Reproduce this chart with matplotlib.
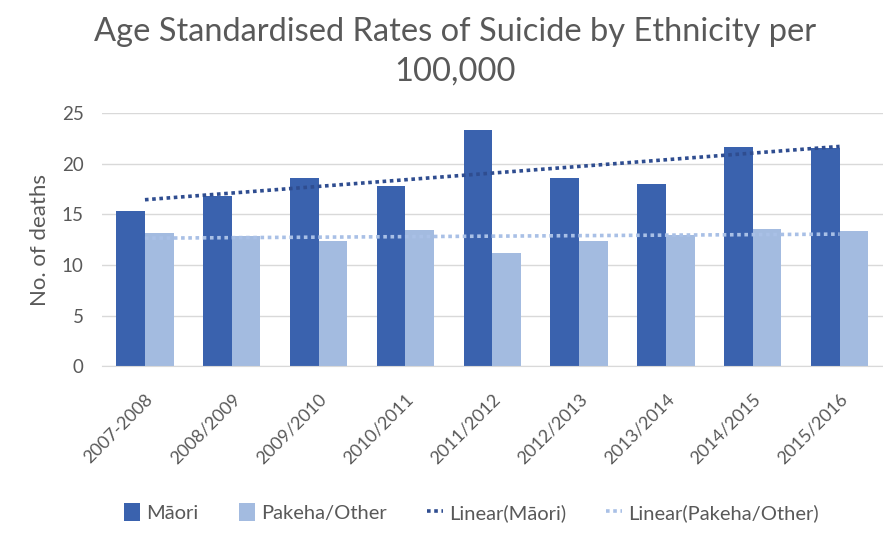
import numpy as np
import matplotlib.pyplot as plt

# ==== Données ====
periods = ["2007-2008", "2008/2009", "2009/2010", "2010/2011", "2011/2012",
           "2012/2013", "2013/2014", "2014/2015", "2015/2016"]
maori = [15.3, 16.8, 18.6, 17.8, 23.3, 18.6, 18.0, 21.7, 21.6]
pakeha = [13.2, 12.9, 12.4, 13.5, 11.2, 12.4, 13.0, 13.6, 13.4]

grey = "#595959"
plt.rcParams['font.family'] = ['Lato', 'DejaVu Sans']

fig = plt.figure(figsize=(8.83, 5.44), dpi=100)
ax = fig.add_axes([0.115, 0.327, 0.885, 0.465])

x = np.arange(len(periods))
w = 0.33
b1 = ax.bar(x - w / 2, maori, w, color="#3a62ae", label="Māori", zorder=2)
b2 = ax.bar(x + w / 2, pakeha, w, color="#a3bbe0", label="Pakeha/Other", zorder=2)

# Courbes de tendance linéaires
lines = []
for vals, col, lab in [(maori, "#2f4d90", "Linear(Māori)"),
                       (pakeha, "#a9c0e6", "Linear(Pakeha/Other)")]:
    a, b = np.polyfit(x, vals, 1)
    l, = ax.plot(x, a * x + b, linestyle=(0, (1, 1)), color=col, lw=2.6,
                 label=lab, zorder=3)
    lines.append(l)

ax.set_xlim(-0.5, len(periods) - 0.5)
ax.set_ylim(0, 25)
ax.set_yticks(range(0, 26, 5))
ax.set_xticks(x)
ax.set_xticklabels(periods, rotation=45, ha="right", rotation_mode="anchor",
                   fontsize=13, color=grey)
ax.tick_params(axis="y", labelsize=13.5, labelcolor=grey, length=0, pad=13)
ax.tick_params(axis="x", length=0, pad=18)
ax.yaxis.grid(True, color="#d9d9d9", lw=1)
ax.set_axisbelow(True)
for s in ["top", "right", "left"]:
    ax.spines[s].set_visible(False)
ax.spines["bottom"].set_color("#d9d9d9")

ax.set_ylabel("No. of deaths", fontsize=16, color=grey, labelpad=8)

fig.suptitle("Age Standardised Rates of Suicide by Ethnicity per\n100,000",
             fontsize=23.5, color=grey, x=0.515, y=0.968, linespacing=1.4)

fig.legend(handles=[b1, b2] + lines, loc="center", bbox_to_anchor=(0.534, 0.058),
           ncol=4, frameon=False, fontsize=14.5, labelcolor=grey,
           handlelength=0.8, handleheight=1.0, handletextpad=0.3,
           columnspacing=2.0)

fig.savefig("out.png", dpi=100)
